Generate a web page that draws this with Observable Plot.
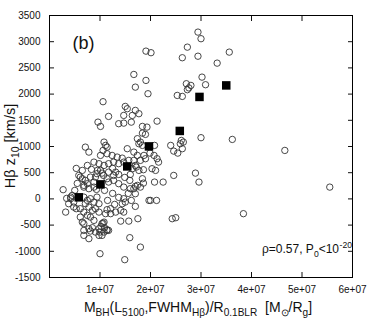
<!DOCTYPE html>
<html><head><meta charset="utf-8">
<script src="https://cdn.jsdelivr.net/npm/d3@7"></script>
<script src="https://cdn.jsdelivr.net/npm/@observablehq/plot@0.6"></script>
<style>
html,body{margin:0;padding:0;background:#fff;}
#chart{width:374px;height:327px;}
</style></head><body><div id="chart"></div>
<script>
// Individual objects: black-hole mass proxy (x) and Hβ z10 velocity (y, km/s)
const mbh = [
 2.94e7,3.00e7,1.91e7,2.01e7,2.73e7,2.63e7,2.94e7,3.56e7,3.32e7,1.67e7,
 1.70e7,1.91e7,1.95e7,3.02e7,3.09e7,2.71e7,2.80e7,2.73e7,2.76e7,2.53e7,
 2.63e7,1.06e7,1.17e7,0.96e7,1.01e7,2.13e7,1.50e7,1.54e7,1.70e7,1.77e7,
 1.47e7,1.64e7,1.37e7,1.47e7,1.62e7,1.84e7,1.93e7,1.84e7,1.90e7,1.74e7,
 1.80e7,1.84e7,2.40e7,2.46e7,2.54e7,2.61e7,2.59e7,2.63e7,2.65e7,3.00e7,
 3.62e7,4.66e7,1.08e7,1.11e7,1.06e7,0.71e7,0.78e7,1.01e7,1.14e7,1.24e7,
 1.34e7,1.44e7,1.54e7,1.67e7,1.74e7,1.99e7,2.07e7,2.13e7,2.16e7,1.80e7,
 0.88e7,0.98e7,1.08e7,1.17e7,1.27e7,1.37e7,1.47e7,1.57e7,1.64e7,1.77e7,
 1.86e7,2.03e7,2.10e7,2.46e7,2.25e7,0.61e7,0.71e7,0.81e7,0.91e7,0.68e7,
 0.78e7,0.88e7,1.17e7,1.27e7,1.37e7,1.47e7,1.60e7,1.70e7,1.80e7,1.86e7,
 1.84e7,0.27e7,1.04e7,1.17e7,1.27e7,1.31e7,1.14e7,1.59e7,1.74e7,1.67e7,
 1.70e7,2.00e7,1.47e7,1.44e7,1.50e7,1.70e7,1.41e7,1.47e7,1.14e7,1.21e7,
 1.11e7,1.21e7,1.06e7,1.41e7,1.57e7,1.75e7,1.14e7,1.08e7,1.04e7,1.59e7,
 1.00e7,1.49e7,1.80e7,1.97e7,2.12e7,2.43e7,2.50e7,1.31e7,2.08e7,0.32e7,
 0.45e7,0.42e7,0.48e7,0.53e7,0.65e7,0.68e7,0.68e7,0.81e7,0.98e7,1.00e7,
 1.04e7,1.14e7,0.61e7,0.75e7,0.78e7,1.02e7,1.09e7,1.08e7,1.17e7,0.58e7,
 0.65e7,0.68e7,0.75e7,0.88e7,0.94e7,0.42e7,0.48e7,0.38e7,0.68e7,0.75e7,
 0.71e7,0.81e7,0.88e7,0.94e7,0.98e7,0.61e7,0.68e7,0.78e7,0.85e7,0.91e7,
 0.98e7,0.81e7,0.88e7,0.85e7,0.91e7,0.98e7,0.78e7,0.68e7,1.14e7,1.77e7,
 1.87e7,1.90e7,1.67e7,1.70e7,1.72e7,0.75e7,0.65e7,0.83e7,0.95e7,1.07e7,
 0.55e7,0.50e7,0.34e7,2.89e7,2.96e7,3.84e7,5.55e7,2.08e7,1.01e7,1.25e7,
 1.37e7,1.49e7,1.60e7,1.09e7,1.25e7,1.37e7,1.15e7,1.29e7,1.56e7,1.62e7,
 0.93e7,0.53e7
];
const zHb = [
 3183,3057,2820,2790,2896,2694,2723,2801,2591,2375,
 2133,2261,2007,2324,2179,2198,2166,2084,2118,1975,
 1956,1855,1574,1465,1383,1484,1765,1721,1689,1626,
 1593,1593,1435,1446,1465,1383,1370,1255,1231,1149,
 1084,1021,1021,912,874,1116,1053,958,1084,1168,
 1135,925,1084,1021,925,988,893,830,862,830,
 798,778,958,893,830,874,830,767,702,735,
 702,672,639,672,702,672,702,735,576,544,
 557,576,544,448,321,416,353,416,416,225,
 195,225,321,353,290,225,195,239,225,301,
 385,176,492,511,448,511,385,353,258,195,
 99,-29,4,-92,-61,-143,-219,-252,-206,-187,
 -282,-282,-462,-424,-424,-378,-601,-633,-696,-740,
 -1046,-1160,-920,-29,-29,-378,-359,-252,321,-252,
 67,4,-156,-187,-443,-473,-601,-614,-569,-633,
 -473,-588,-347,-315,-569,-525,-550,-443,-601,448,
 385,258,290,321,481,34,-61,-92,34,-29,
 -92,4,-61,34,-92,-187,-252,-156,-219,-187,
 -252,-347,-410,-550,-633,-696,-759,-696,988,1053,
 830,767,735,639,607,639,544,563,544,448,
 296,162,10,492,321,-282,225,1021,544,582,
 467,410,467,162,105,29,-29,-105,105,-29,
 181,582
];
// Binned means (filled squares)
const binMbh = [0.58e7, 1.01e7, 1.54e7, 1.97e7, 2.58e7, 2.97e7, 3.50e7];
const binZ = [30, 277, 620, 1002, 1297, 1946, 2166];

const xTicks = [1e7, 2e7, 3e7, 4e7, 5e7, 6e7];
const xTickLabels = ["1e+07", "2e+07", "3e+07", "4e+07", "5e+07", "6e+07"];
const yTicks = [-1500, -1000, -500, 0, 500, 1000, 1500, 2000, 2500, 3000, 3500];
const yTickLabels = ["-1500", "-1000", "-500", "0", "500", "1000", "1500", "2000", "2500", "3000", "3500"];

const points = mbh.map((x, i) => ({x, y: zHb[i]}));
const bins = binMbh.map((x, i) => ({x, y: binZ[i]}));

const W = 374, H = 327, mL = 49, mR = 22, mT = 15, mB = 50;
const FONT = '"Liberation Sans", Arial, Helvetica, sans-serif';

const svg = Plot.plot({
  width: W, height: H,
  marginLeft: mL, marginRight: mR, marginTop: mT, marginBottom: mB,
  style: {fontFamily: FONT, fontSize: "10px", color: "#111", background: "#fff"},
  x: {domain: [0, 6e7]},
  y: {domain: [-1500, 3500]},
  marks: [
    Plot.dot(points, {x: "x", y: "y", r: 3.2, stroke: "#333", strokeWidth: 0.9, fill: "none"}),
    Plot.dot(bins, {x: "x", y: "y", symbol: "square", r: 4.8, fill: "#000", stroke: "none"}),
    Plot.axisX({anchor: "bottom", ticks: xTicks, tickSize: -5, tickPadding: 13,
      tickFormat: d => xTickLabels[xTicks.indexOf(d)], label: null}),
    Plot.axisX({anchor: "top", ticks: xTicks, tickSize: -5, fill: "none", label: null}),
    Plot.axisY({anchor: "left", ticks: yTicks, tickSize: -5, tickPadding: 14,
      tickFormat: d => yTickLabels[yTicks.indexOf(d)], label: null}),
    Plot.axisY({anchor: "right", ticks: yTicks, tickSize: -5, fill: "none", label: null}),
    Plot.frame({stroke: "#000", strokeWidth: 1}),
    Plot.text(["(b)"], {text: d => d, frameAnchor: "top-left", dx: 23, dy: 33,
      fontSize: 18, textAnchor: "start", lineAnchor: "bottom", fill: "#111"})
  ]
});

// rich text helper (subscripts / superscripts)
function rich(sel, segs, size) {
  let shift = 0;
  segs.forEach(([t, k, dx]) => {
    const target = k === "sub" ? size * 0.3 : k === "sup" ? -size * 0.45 : 0;
    const ts = sel.append("tspan").text(t)
      .attr("dy", target - shift)
      .attr("font-size", k === "n" ? size : size * 0.72);
    if (dx) ts.attr("dx", dx);
    shift = target;
  });
}
const root = d3.select(svg);
const xl = root.append("text").attr("x", 198).attr("y", 312)
  .attr("text-anchor", "middle").attr("fill", "#111").attr("font-family", FONT);
rich(xl, [["M","n"],["BH","sub"],["(L","n"],["5100","sub"],[",FWHM","n"],["H\u03b2","sub"],
  [")/R","n"],["0.1BLR","sub"],["\u00a0\u00a0[M","n"],["\u2299","sub"],["/R","n"],["g","sub"],["]","n"]], 14);

const yl = root.append("text").attr("transform", "translate(15,146) rotate(-90)")
  .attr("text-anchor", "middle").attr("fill", "#111").attr("font-family", FONT);
rich(yl, [["H\u03b2 z","n"],["10","sub"],[" [km/s]","n"]], 14.5);

const an = root.append("text").attr("x", 262).attr("y", 253)
  .attr("text-anchor", "start").attr("fill", "#111").attr("font-family", FONT);
rich(an, [["\u03c1=0.57, P","n"],["0","sub"],["<10","n"],["-20","sup",0.5]], 12);

document.getElementById("chart").appendChild(svg);
</script></body></html>
